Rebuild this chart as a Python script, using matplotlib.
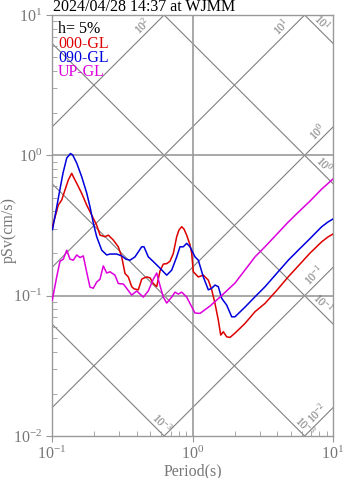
import numpy as np
import matplotlib
matplotlib.use("Agg")
import matplotlib.pyplot as plt

plt.rcParams["font.family"] = ["Liberation Serif", "DejaVu Serif"]
plt.rcParams["mathtext.fontset"] = "custom"
plt.rcParams["mathtext.rm"] = "Liberation Serif"
plt.rcParams["mathtext.it"] = "Liberation Serif:italic"

TITLE = "2024/04/28 14:37 at WJMM"
DAMPING = "h= 5%"

# pseudo velocity response, period (s) vs pSv (cm/s)
ns_period = [0.1005, 0.1022, 0.1109, 0.1172, 0.1237, 0.1306, 0.1381, 0.1418, 0.1499, 0.1627,
             0.1766, 0.1917, 0.208, 0.2196, 0.2384, 0.2516, 0.2731, 0.2965, 0.3134, 0.3308,
             0.3492, 0.369, 0.3832, 0.4114, 0.4349, 0.4464, 0.4721, 0.4984, 0.526, 0.5563,
             0.587, 0.6198, 0.6553, 0.6917, 0.7302, 0.7718, 0.8016, 0.8379, 0.8702, 0.909,
             0.960, 0.9869, 1.0132, 1.1, 1.194, 1.296, 1.370, 1.446, 1.526, 1.588,
             1.657, 1.751, 1.849, 2.007, 2.364, 2.785, 3.281, 3.994, 4.808, 5.823,
             6.859, 8.31, 9.21, 10.0]
ns_psv = [0.302, 0.328, 0.442, 0.48, 0.566, 0.667, 0.744, 0.704, 0.632, 0.536,
          0.442, 0.375, 0.318, 0.270, 0.263, 0.270, 0.249, 0.223, 0.189, 0.144,
          0.136, 0.116, 0.112, 0.110, 0.131, 0.133, 0.136, 0.134, 0.122, 0.116,
          0.150, 0.168, 0.169, 0.176, 0.200, 0.263, 0.294, 0.310, 0.298, 0.270,
          0.230, 0.200, 0.148, 0.136, 0.140, 0.129, 0.110, 0.088, 0.067, 0.0524,
          0.0553, 0.0509, 0.0504, 0.0541, 0.0634, 0.0768, 0.0881, 0.1096, 0.1364, 0.168,
          0.201, 0.242, 0.262, 0.275]

ew_period = [0.1008, 0.108, 0.114, 0.1198, 0.1273, 0.1354, 0.1404, 0.1499, 0.1627, 0.1766,
             0.1864, 0.1968, 0.208, 0.2258, 0.245, 0.2587, 0.2887, 0.3134, 0.3363, 0.359,
             0.3897, 0.4349, 0.4516, 0.4846, 0.526, 0.587, 0.6553, 0.7112, 0.7718, 0.8147,
             0.86, 0.909, 0.960, 1.042, 1.1, 1.194, 1.296, 1.370, 1.446, 1.526,
             1.614, 1.751, 1.901, 2.007, 2.364, 2.785, 3.281, 3.994, 4.808, 5.823,
             6.859, 8.31, 9.21, 10.0]
ew_psv = [0.296, 0.428, 0.575, 0.748, 0.957, 1.03, 1.005, 0.881, 0.704, 0.539,
          0.430, 0.329, 0.263, 0.211, 0.195, 0.198, 0.198, 0.192, 0.182, 0.179,
          0.189, 0.223, 0.223, 0.189, 0.175, 0.157, 0.140, 0.152, 0.189, 0.223,
          0.223, 0.236, 0.223, 0.189, 0.179, 0.136, 0.110, 0.113, 0.119, 0.116,
          0.0957, 0.0857, 0.0707, 0.0707, 0.0829, 0.0982, 0.1157, 0.1449, 0.179, 0.217,
          0.255, 0.310, 0.335, 0.352]

ud_period = [0.1005, 0.108, 0.114, 0.1204, 0.1273, 0.1343, 0.1418, 0.1499, 0.1582, 0.167,
             0.1766, 0.1864, 0.1968, 0.208, 0.2196, 0.2318, 0.245, 0.2587, 0.2808, 0.2965,
             0.3218, 0.3308, 0.369, 0.4007, 0.4464, 0.4846, 0.526, 0.5563, 0.5803, 0.6198,
             0.6553, 0.7112, 0.7506, 0.7924, 0.8379, 0.909, 0.9869, 1.042, 1.1307, 1.332,
             1.569, 2.007, 2.785, 3.281, 3.994, 4.808, 5.823, 6.859, 8.31, 9.21, 10.0]
ud_psv = [0.093, 0.136, 0.176, 0.182, 0.211, 0.182, 0.179, 0.195, 0.187, 0.192,
          0.147, 0.115, 0.113, 0.125, 0.131, 0.163, 0.145, 0.148, 0.140, 0.122,
          0.121, 0.117, 0.101, 0.108, 0.0977, 0.108, 0.131, 0.145, 0.123, 0.0977,
          0.0886, 0.0977, 0.106, 0.1026, 0.106, 0.0977, 0.0834, 0.0752, 0.0748, 0.0843,
          0.0977, 0.123, 0.189, 0.223, 0.275, 0.335, 0.404, 0.472, 0.575, 0.630, 0.678]

components = [("000-GL", "#dd0000", ns_period, ns_psv),
              ("090-GL", "#0000dd", ew_period, ew_psv),
              ("UP-GL", "#dd00dd", ud_period, ud_psv)]

# tripartite guide lines: acceleration (gal) rising, displacement (cm) falling
accel_levels = [0.01, 0.1, 1.0, 10.0, 100.0]
disp_levels = [0.001, 0.01, 0.1, 1.0, 10.0]
# (level, period at label, text)
accel_labels = [(100.0, 0.48, r"$10^{2}$"), (10.0, 4.7, r"$10^{1}$"),
                (1.0, 8.5, r"$10^{0}$"), (0.1, 8.0, r"$10^{-1}$"),
                (0.01, 8.4, r"$10^{-2}$")]
disp_labels = [(10.0, 7.7, r"$10^{1}$"), (1.0, 7.9, r"$10^{0}$"),
               (0.1, 7.7, r"$10^{-1}$"), (0.01, 5.8, r"$10^{-3}$"),
               (0.001, 0.55, r"$10^{-3}$")]

GRAY = "#777777"
W, H = 347, 478
fig = plt.figure(figsize=(W / 100, H / 100), dpi=100)
ax = fig.add_axes([52 / W, 1 - 436 / H, 281 / W, 421 / H])
ax.set_xscale("log")
ax.set_yscale("log")
ax.set_xlim(0.1, 10)
ax.set_ylim(0.01, 10)

T = np.logspace(-1, 1, 200)
for a in accel_levels:
    ax.plot(T, a * T / (2 * np.pi), color="#808080", lw=0.8, zorder=1)
for d in disp_levels:
    ax.plot(T, 2 * np.pi * d / T, color="#808080", lw=0.8, zorder=1)

for a, t, s in accel_labels:
    ax.text(t, a * t / (2 * np.pi), s, rotation=45, rotation_mode="anchor",
            ha="center", va="bottom", fontsize=8.5, color=GRAY)
for d, t, s in disp_labels:
    ax.text(t, 2 * np.pi * d / t, s, rotation=-45, rotation_mode="anchor",
            ha="center", va="bottom", fontsize=8.5, color=GRAY)

ax.axvline(1.0, color="#999999", lw=1.2, zorder=1)
for yv in (0.1, 1.0):
    ax.axhline(yv, color="#999999", lw=1.2, zorder=1)

for name, col, per, psv in components:
    ax.plot(per, psv, color=col, lw=1.1, zorder=3)

for sp in ax.spines.values():
    sp.set_color("#999999")
    sp.set_linewidth(1.0)
ax.tick_params(which="major", direction="out", length=4, color="#999999",
               labelsize=11.5, labelcolor=GRAY, pad=3)
ax.tick_params(which="minor", direction="in", length=3.5, color="#999999")
ax.set_xlabel("Period(s)", fontsize=11.5, color=GRAY, labelpad=0)
ax.set_ylabel("pSv(cm/s)", fontsize=11.5, color=GRAY, va="center")
ax.yaxis.set_label_coords(-0.152, 0.49)

# damping and component names in the upper-left corner
ax.text(6 / 281, (436 - 29) / 421, DAMPING, transform=ax.transAxes,
        fontsize=11.5, color="black", va="center")
for i, (name, col, _, _) in enumerate(components):
    ax.text(6 / 281, (436 - 43.5 - 14.5 * i) / 421, name, transform=ax.transAxes,
            fontsize=11.5, color=col, va="center")

fig.text(53 / W, 1 - 11 / H, TITLE, fontsize=11.5, color="black",
         ha="left", va="baseline")

fig.savefig("out.png", dpi=100)
